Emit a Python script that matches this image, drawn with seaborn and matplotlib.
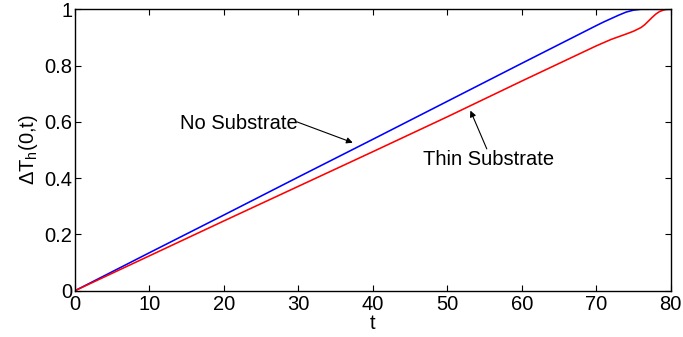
import matplotlib
matplotlib.use("Agg")
import matplotlib.pyplot as plt
import seaborn as sns
import pandas as pd

# ---- data ----
t_none = [0, 10, 20, 30, 40, 50, 60, 70, 71, 72, 73, 74, 75, 76, 80]
v_none = [0, 0.135, 0.269, 0.404, 0.538, 0.673, 0.808, 0.942, 0.955, 0.967,
          0.979, 0.990, 0.997, 1.0, 1.0]

t_thin = [0, 10, 20, 30, 40, 50, 60, 70, 72, 74, 75, 76, 76.5, 77, 77.5,
          78, 78.5, 79, 79.5, 80]
v_thin = [0, 0.124, 0.248, 0.371, 0.494, 0.618, 0.745, 0.870, 0.893, 0.912,
          0.922, 0.935, 0.945, 0.958, 0.971, 0.983, 0.992, 0.997, 1.0, 1.0]

series_names = ["No Substrate", "Thin Substrate"]
series_colors = ["#0000ff", "#ff0000"]

x_ticks = [0, 10, 20, 30, 40, 50, 60, 70, 80]
y_ticks = [0, 0.2, 0.4, 0.6, 0.8, 1.0]
y_tick_labels = ["0", "0.2", "0.4", "0.6", "0.8", "1"]

df = pd.concat([
    pd.DataFrame({"t": t_none, "v": v_none, "case": series_names[0]}),
    pd.DataFrame({"t": t_thin, "v": v_thin, "case": series_names[1]}),
])

sns.set_style("ticks")
plt.rcParams["font.family"] = ["Liberation Sans", "DejaVu Sans"]
plt.rcParams["mathtext.fontset"] = "custom"
plt.rcParams["mathtext.rm"] = "Liberation Sans"
plt.rcParams["mathtext.it"] = "Liberation Sans"
plt.rcParams["text.color"] = "black"
plt.rcParams["axes.labelcolor"] = "black"

FS = 14.5

fig = plt.figure(figsize=(6.83, 3.37), dpi=100)
ax = fig.add_axes([0.1098, 0.1374, 0.8722, 0.835])

sns.lineplot(data=df, x="t", y="v", hue="case", palette=series_colors,
             hue_order=series_names, sort=False, estimator=None,
             linewidth=1.15, legend=False, ax=ax)

ax.set_xlim(0, 80)
ax.set_ylim(0, 1)
ax.set_xticks(x_ticks)
ax.set_xticklabels([str(v) for v in x_ticks])
ax.set_yticks(y_ticks)
ax.set_yticklabels(y_tick_labels)
ax.tick_params(direction="in", length=4, width=0.8, top=True, right=True,
               labelsize=FS, colors="black")
ax.tick_params(axis="x", pad=3)
ax.tick_params(axis="y", pad=2)
for s in ax.spines.values():
    s.set_visible(True)
    s.set_linewidth(1.0)
    s.set_color("black")

ax.set_xlabel("t", fontsize=FS, labelpad=0)
ax.set_ylabel(r"$\Delta$T$_{\rm h}$(0,t)", fontsize=FS, labelpad=3)

# annotations
ax.text(14.1, 0.595, series_names[0], fontsize=FS, ha="left", va="center")
ax.annotate("", xy=(37.3, 0.526), xytext=(29.8, 0.600),
            arrowprops=dict(arrowstyle="-|>", color="black", lw=0.8,
                            mutation_scale=9, shrinkA=0, shrinkB=0))
ax.text(46.7, 0.468, series_names[1], fontsize=FS, ha="left", va="center")
ax.annotate("", xy=(53.1, 0.640), xytext=(55.3, 0.504),
            arrowprops=dict(arrowstyle="-|>", color="black", lw=0.8,
                            mutation_scale=9, shrinkA=0, shrinkB=0))

fig.savefig("out.png", dpi=100)
